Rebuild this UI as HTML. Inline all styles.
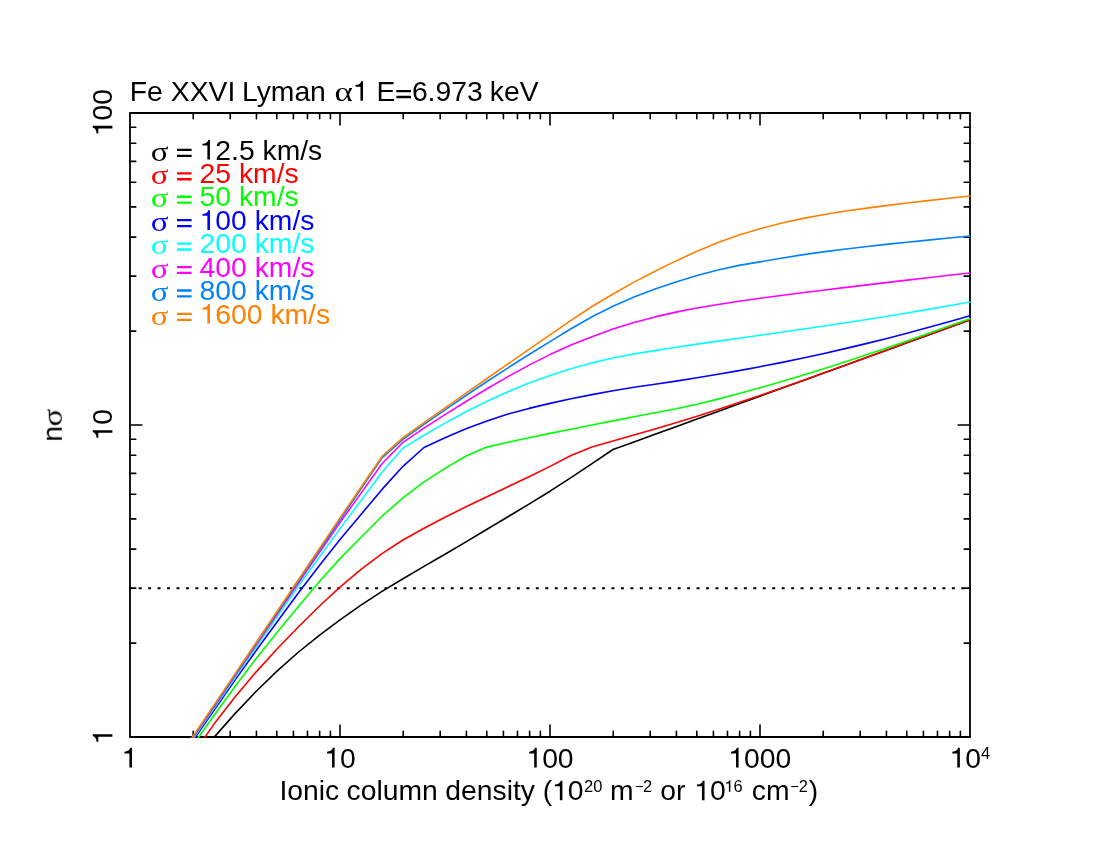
<!DOCTYPE html>
<html lang="en"><head><meta charset="utf-8"><title>Fe XXVI Lyman alpha1 - n sigma vs ionic column density</title>
<style>
html,body{margin:0;padding:0;background:#ffffff;}
body{width:1100px;height:850px;overflow:hidden;}
svg{display:block;}
text{font-family:"Liberation Sans",sans-serif;fill:#000000;}
.gk{font-family:"Liberation Serif",serif;}
</style></head><body>
<svg width="1100" height="850" viewBox="0 0 1100 850">
<rect x="0" y="0" width="1100" height="850" fill="#ffffff"/>
<defs><clipPath id="plotclip"><rect x="129" y="112" width="842" height="626"/></clipPath></defs>
<rect x="130" y="113" width="840" height="624" fill="none" stroke="#000000" stroke-width="1.8" stroke-linejoin="round"/>
<path d="M193.22 737v-5.8M193.22 113v5.8M230.2 737v-5.8M230.2 113v5.8M256.43 737v-5.8M256.43 113v5.8M276.78 737v-5.8M276.78 113v5.8M293.41 737v-5.8M293.41 113v5.8M307.47 737v-5.8M307.47 113v5.8M319.65 737v-5.8M319.65 113v5.8M330.39 737v-5.8M330.39 113v5.8M340 737v-11.9M340 113v11.9M403.22 737v-5.8M403.22 113v5.8M440.2 737v-5.8M440.2 113v5.8M466.43 737v-5.8M466.43 113v5.8M486.78 737v-5.8M486.78 113v5.8M503.41 737v-5.8M503.41 113v5.8M517.47 737v-5.8M517.47 113v5.8M529.65 737v-5.8M529.65 113v5.8M540.39 737v-5.8M540.39 113v5.8M550 737v-11.9M550 113v11.9M613.22 737v-5.8M613.22 113v5.8M650.2 737v-5.8M650.2 113v5.8M676.43 737v-5.8M676.43 113v5.8M696.78 737v-5.8M696.78 113v5.8M713.41 737v-5.8M713.41 113v5.8M727.47 737v-5.8M727.47 113v5.8M739.65 737v-5.8M739.65 113v5.8M750.39 737v-5.8M750.39 113v5.8M760 737v-11.9M760 113v11.9M823.22 737v-5.8M823.22 113v5.8M860.2 737v-5.8M860.2 113v5.8M886.43 737v-5.8M886.43 113v5.8M906.78 737v-5.8M906.78 113v5.8M923.41 737v-5.8M923.41 113v5.8M937.47 737v-5.8M937.47 113v5.8M949.65 737v-5.8M949.65 113v5.8M960.39 737v-5.8M960.39 113v5.8M130 737h11.9M970 737h-11.9M130 643.08h5.8M970 643.08h-5.8M130 588.14h5.8M970 588.14h-5.8M130 549.16h5.8M970 549.16h-5.8M130 518.92h5.8M970 518.92h-5.8M130 494.22h5.8M970 494.22h-5.8M130 473.33h5.8M970 473.33h-5.8M130 455.24h5.8M970 455.24h-5.8M130 439.28h5.8M970 439.28h-5.8M130 425h11.9M970 425h-11.9M130 331.08h5.8M970 331.08h-5.8M130 276.14h5.8M970 276.14h-5.8M130 237.16h5.8M970 237.16h-5.8M130 206.92h5.8M970 206.92h-5.8M130 182.22h5.8M970 182.22h-5.8M130 161.33h5.8M970 161.33h-5.8M130 143.24h5.8M970 143.24h-5.8M130 127.28h5.8M970 127.28h-5.8M130 113h11.9M970 113h-11.9" fill="none" stroke="#000000" stroke-width="1.6" stroke-linecap="round"/>
<path d="M129.2 588.14H970" stroke="#000000" stroke-width="2" stroke-dasharray="3 6.456" fill="none"/>
<g clip-path="url(#plotclip)" fill="none" stroke-width="1.6" stroke-linejoin="round" stroke-linecap="round">
<polyline points="130,847 151,818 172,790.5 193,763.6 214,737.4 235,713.6 256,691.5 277,671.1 298,652.5 319,635.6 340,619.9 361,605.1 382,591.4 403,578.8 424,566.4 445,554.3 466,541.9 487,529.3 508,516.7 529,504.1 550,491.2 571,477.6 592,463.6 613,449.5 634,441.88 655,434.26 676,426.65 697,419.03 718,411.41 739,403.79 760,396.17 781,388.56 802,380.94 823,373.32 844,365.7 865,358.08 886,350.47 907,342.85 928,335.23 949,327.61 970,319.99" stroke="#000000"/>
<polyline points="130,842.9 151,813.2 172,783.7 193,754.5 214,724.1 235,697.1 256,672.1 277,649 298,627.2 319,606.5 340,587.1 361,569.4 382,553.7 403,540 424,528.2 445,517.2 466,506.8 487,496.7 508,486.7 529,476.7 550,466.4 571,455.5 592,447 613,441.1 634,435.1 655,429 676,422.7 697,416.2 718,409.5 739,402.6 760,395.5 781,388.2 802,380.8 823,373.3 844,365.7 865,358 886,350.3 907,342.6 928,335 949,327.4 970,319.8" stroke="#ff0000"/>
<polyline points="130,836.4 151,805.7 172,775.3 193,745.1 214,715.5 235,686.5 256,658.8 277,632.6 298,606.9 319,582 340,558.6 361,537.2 382,516.2 403,497.9 424,481.8 445,468.4 466,456 487,447.1 508,442.2 529,437.7 550,433.4 571,429.2 592,425 613,420.9 634,416.8 655,412.8 676,408.8 697,404.2 718,399.1 739,393.6 760,387.8 781,381.7 802,375.4 823,368.9 844,362.2 865,355.3 886,348.2 907,340.9 928,333.5 949,326.1 970,318.7" stroke="#00ff00"/>
<polyline points="130,833.3 151,802.43 172,771.57 193,740.7 214,710.2 235,680.1 256,650.8 277,622 298,593.5 319,565.9 340,539.5 361,514.5 382,489.4 403,466.3 424,447.5 445,437.7 466,428.8 487,420.9 508,414 529,408.4 550,403.4 571,398.8 592,394.6 613,390.8 634,387.3 655,384.2 676,381.1 697,377.8 718,374.3 739,370.6 760,366.7 781,362.6 802,358.3 823,353.7 844,348.9 865,343.9 886,338.7 907,333.2 928,327.5 949,321.7 970,315.8" stroke="#0000ff"/>
<polyline points="130,831.5 151,800.63 172,769.77 193,738.9 214,708.35 235,677.81 256,647.26 277,616.77 298,586.57 319,557.58 340,528.6 361,500.6 382,472.3 403,448.1 424,435.2 445,423.1 466,411.8 487,401.3 508,391.7 529,383 550,375.5 571,368.8 592,362.9 613,358 634,353.9 655,350.6 676,347.2 697,344.1 718,341.1 739,338.2 760,335.3 781,332.3 802,329.3 823,326.2 844,323 865,319.8 886,316.5 907,313 928,309.4 949,305.7 970,302" stroke="#00ffff"/>
<polyline points="130,830.7 151,799.7 172,768.7 193,737.7 214,706.8 235,675.9 256,645 277,614.21 298,583.64 319,553.07 340,522.5 361,493.1 382,463.7 403,442.3 424,428.2 445,414.6 466,401.5 487,388.8 508,376.6 529,365.1 550,354.6 571,345.1 592,336.7 613,329.1 634,322.5 655,316.9 676,312.1 697,308 718,304.5 739,301.2 760,298.3 781,295.5 802,292.8 823,290.2 844,287.6 865,285.1 886,282.6 907,280.1 928,277.7 949,275.3 970,273" stroke="#ff00ff"/>
<polyline points="130,830.2 151,799.1 172,768 193,736.9 214,705.86 235,674.83 256,643.79 277,612.78 298,581.82 319,550.86 340,519.9 361,488.9 382,457.8 403,439.3 424,424.4 445,409.8 466,395.5 487,381.5 508,367.8 529,354.5 550,341.6 571,328.8 592,316.8 613,306.2 634,297 655,289 676,281.9 697,275.6 718,270 739,265.4 760,261.9 781,258.2 802,254.9 823,251.9 844,249.2 865,246.7 886,244.4 907,242.2 928,240.1 949,238 970,236" stroke="#0080ff"/>
<polyline points="130,829.9 151,798.7 172,767.5 193,736.3 214,705.1 235,673.9 256,642.7 277,611.5 298,580.3 319,549.1 340,517.9 361,487.2 382,456.4 403,437.6 424,422.7 445,407.9 466,393.2 487,378.5 508,363.9 529,349.3 550,334.8 571,320.3 592,306.5 613,294 634,282.1 655,271.2 676,260.9 697,251.2 718,242.5 739,235 760,228.8 781,223.3 802,218.6 823,214.7 844,211.3 865,208.4 886,205.6 907,203 928,200.6 949,198.2 970,196" stroke="#ff8000"/>
</g>
<g opacity="0.999">
<text x="129.68" y="100.8" font-size="28.3">Fe</text>
<text x="170.86" y="100.8" font-size="28.3">XXVI</text>
<text x="241.98" y="100.8" font-size="28.3">Lyman</text>
<text x="334.57" y="100.8" font-size="27.6" textLength="18.32" lengthAdjust="spacingAndGlyphs" class="gk">α</text>
<path transform="translate(352.67 100.8) scale(28.3 -28.3)" d="M.366 0V.694H.306C.288 .612 .214 .566 .1 .558V.497H.275V0Z" fill="#000000"/>
<text x="376.48" y="100.8" font-size="28.3">E</text>
<path transform="translate(395.35 100.8) scale(28.3 -28.3)" d="M.037 .302H.553V.384H.037ZM.037 .093H.553V.175H.037Z" fill="#000000"/>
<text x="411.88" y="100.8" font-size="28.3">6.973</text>
<text x="489.79" y="100.8" font-size="28.3">keV</text>
<text x="150.65" y="160.5" font-size="27.4" textLength="17.75" lengthAdjust="spacingAndGlyphs" class="gk" style="fill:#000000">σ</text>
<path transform="translate(175.95 159.6) scale(28.3 -28.3)" d="M.037 .302H.553V.384H.037ZM.037 .093H.553V.175H.037Z" fill="#000000"/>
<path transform="translate(199.6 159.6) scale(28.3 -28.3)" d="M.366 0V.694H.306C.288 .612 .214 .566 .1 .558V.497H.275V0Z" fill="#000000"/>
<text x="215.34" y="159.6" font-size="28.3" style="fill:#000000">2.5 km/s</text>
<text x="150.65" y="183.93" font-size="27.4" textLength="17.75" lengthAdjust="spacingAndGlyphs" class="gk" style="fill:#ff0000">σ</text>
<path transform="translate(175.95 183.03) scale(28.3 -28.3)" d="M.037 .302H.553V.384H.037ZM.037 .093H.553V.175H.037Z" fill="#ff0000"/>
<text x="199.6" y="183.03" font-size="28.3" style="fill:#ff0000">25 km/s</text>
<text x="150.65" y="207.36" font-size="27.4" textLength="17.75" lengthAdjust="spacingAndGlyphs" class="gk" style="fill:#00ff00">σ</text>
<path transform="translate(175.95 206.46) scale(28.3 -28.3)" d="M.037 .302H.553V.384H.037ZM.037 .093H.553V.175H.037Z" fill="#00ff00"/>
<text x="199.6" y="206.46" font-size="28.3" style="fill:#00ff00">50 km/s</text>
<text x="150.65" y="230.79" font-size="27.4" textLength="17.75" lengthAdjust="spacingAndGlyphs" class="gk" style="fill:#0000ff">σ</text>
<path transform="translate(175.95 229.89) scale(28.3 -28.3)" d="M.037 .302H.553V.384H.037ZM.037 .093H.553V.175H.037Z" fill="#0000ff"/>
<path transform="translate(199.6 229.89) scale(28.3 -28.3)" d="M.366 0V.694H.306C.288 .612 .214 .566 .1 .558V.497H.275V0Z" fill="#0000ff"/>
<text x="215.34" y="229.89" font-size="28.3" style="fill:#0000ff">00 km/s</text>
<text x="150.65" y="254.22" font-size="27.4" textLength="17.75" lengthAdjust="spacingAndGlyphs" class="gk" style="fill:#00ffff">σ</text>
<path transform="translate(175.95 253.32) scale(28.3 -28.3)" d="M.037 .302H.553V.384H.037ZM.037 .093H.553V.175H.037Z" fill="#00ffff"/>
<text x="199.6" y="253.32" font-size="28.3" style="fill:#00ffff">200 km/s</text>
<text x="150.65" y="277.65" font-size="27.4" textLength="17.75" lengthAdjust="spacingAndGlyphs" class="gk" style="fill:#ff00ff">σ</text>
<path transform="translate(175.95 276.75) scale(28.3 -28.3)" d="M.037 .302H.553V.384H.037ZM.037 .093H.553V.175H.037Z" fill="#ff00ff"/>
<text x="199.6" y="276.75" font-size="28.3" style="fill:#ff00ff">400 km/s</text>
<text x="150.65" y="301.08" font-size="27.4" textLength="17.75" lengthAdjust="spacingAndGlyphs" class="gk" style="fill:#0080ff">σ</text>
<path transform="translate(175.95 300.18) scale(28.3 -28.3)" d="M.037 .302H.553V.384H.037ZM.037 .093H.553V.175H.037Z" fill="#0080ff"/>
<text x="199.6" y="300.18" font-size="28.3" style="fill:#0080ff">800 km/s</text>
<text x="150.65" y="324.51" font-size="27.4" textLength="17.75" lengthAdjust="spacingAndGlyphs" class="gk" style="fill:#ff8000">σ</text>
<path transform="translate(175.95 323.61) scale(28.3 -28.3)" d="M.037 .302H.553V.384H.037ZM.037 .093H.553V.175H.037Z" fill="#ff8000"/>
<path transform="translate(199.6 323.61) scale(28.3 -28.3)" d="M.366 0V.694H.306C.288 .612 .214 .566 .1 .558V.497H.275V0Z" fill="#ff8000"/>
<text x="215.34" y="323.61" font-size="28.3" style="fill:#ff8000">600 km/s</text>
<path transform="translate(121.63 767.5) scale(28.3 -28.3)" d="M.366 0V.694H.306C.288 .612 .214 .566 .1 .558V.497H.275V0Z" fill="#000000"/>
<path transform="translate(324.26 767.5) scale(28.3 -28.3)" d="M.366 0V.694H.306C.288 .612 .214 .566 .1 .558V.497H.275V0Z" fill="#000000"/>
<text x="340" y="767.5" font-size="28.3">0</text>
<path transform="translate(526.39 767.5) scale(28.3 -28.3)" d="M.366 0V.694H.306C.288 .612 .214 .566 .1 .558V.497H.275V0Z" fill="#000000"/>
<text x="542.13" y="767.5" font-size="28.3">00</text>
<path transform="translate(728.22 767.5) scale(28.3 -28.3)" d="M.366 0V.694H.306C.288 .612 .214 .566 .1 .558V.497H.275V0Z" fill="#000000"/>
<text x="743.96" y="767.5" font-size="28.3">000</text>
<path transform="translate(949.5 767.5) scale(28.3 -28.3)" d="M.366 0V.694H.306C.288 .612 .214 .566 .1 .558V.497H.275V0Z" fill="#000000"/>
<text x="965.24" y="767.5" font-size="28.3">0</text>
<text x="981.12" y="759.1" font-size="16.5">4</text>
<g transform="translate(112.4 736.7) rotate(-90)">
<path transform="translate(-7.87 0) scale(28.3 -28.3)" d="M.366 0V.694H.306C.288 .612 .214 .566 .1 .558V.497H.275V0Z" fill="#000000"/>
</g>
<g transform="translate(112.4 424.8) rotate(-90)">
<path transform="translate(-15.74 0) scale(28.3 -28.3)" d="M.366 0V.694H.306C.288 .612 .214 .566 .1 .558V.497H.275V0Z" fill="#000000"/>
<text x="0" y="0" font-size="28.3">0</text>
</g>
<g transform="translate(112.4 112.6) rotate(-90)">
<path transform="translate(-23.61 0) scale(28.3 -28.3)" d="M.366 0V.694H.306C.288 .612 .214 .566 .1 .558V.497H.275V0Z" fill="#000000"/>
<text x="-7.87" y="0" font-size="28.3">00</text>
</g>
<text x="279.39" y="800.3" font-size="28.3">Ionic</text>
<text x="346.6" y="800.3" font-size="28.3">column</text>
<text x="445.31" y="800.3" font-size="28.3">density</text>
<text x="542.65" y="800.3" font-size="28.3">(</text>
<path transform="translate(552.07 800.3) scale(28.3 -28.3)" d="M.366 0V.694H.306C.288 .612 .214 .566 .1 .558V.497H.275V0Z" fill="#000000"/>
<text x="567.81" y="800.3" font-size="28.3">0</text>
<text x="583.97" y="791.8" font-size="16.5">20</text>
<text x="610.02" y="800.3" font-size="28.3">m</text>
<text x="634.89" y="791.8" font-size="16.5" textLength="8.41" lengthAdjust="spacingAndGlyphs">−</text>
<text x="643.07" y="791.8" font-size="16.5">2</text>
<text x="660.21" y="800.3" font-size="28.3">or</text>
<path transform="translate(694.17 800.3) scale(28.3 -28.3)" d="M.366 0V.694H.306C.288 .612 .214 .566 .1 .558V.497H.275V0Z" fill="#000000"/>
<text x="709.91" y="800.3" font-size="28.3">0</text>
<path transform="translate(724.35 791.8) scale(16.5 -16.5)" d="M.366 0V.694H.306C.288 .612 .214 .566 .1 .558V.497H.275V0Z" fill="#000000"/>
<text x="733.53" y="791.8" font-size="16.5">6</text>
<text x="751.8" y="800.3" font-size="28.3">cm</text>
<text x="790.59" y="791.8" font-size="16.5" textLength="8.41" lengthAdjust="spacingAndGlyphs">−</text>
<text x="798.77" y="791.8" font-size="16.5">2</text>
<text x="808.83" y="800.3" font-size="28.3">)</text>
<g transform="translate(61.8 426.7) rotate(-90)">
<text x="-15" y="0" font-size="28.3">n</text>
<text x="0.35" y="0.3" font-size="27.4" textLength="17.64" lengthAdjust="spacingAndGlyphs" class="gk">σ</text>
</g>
</g>
</svg>
</body></html>
